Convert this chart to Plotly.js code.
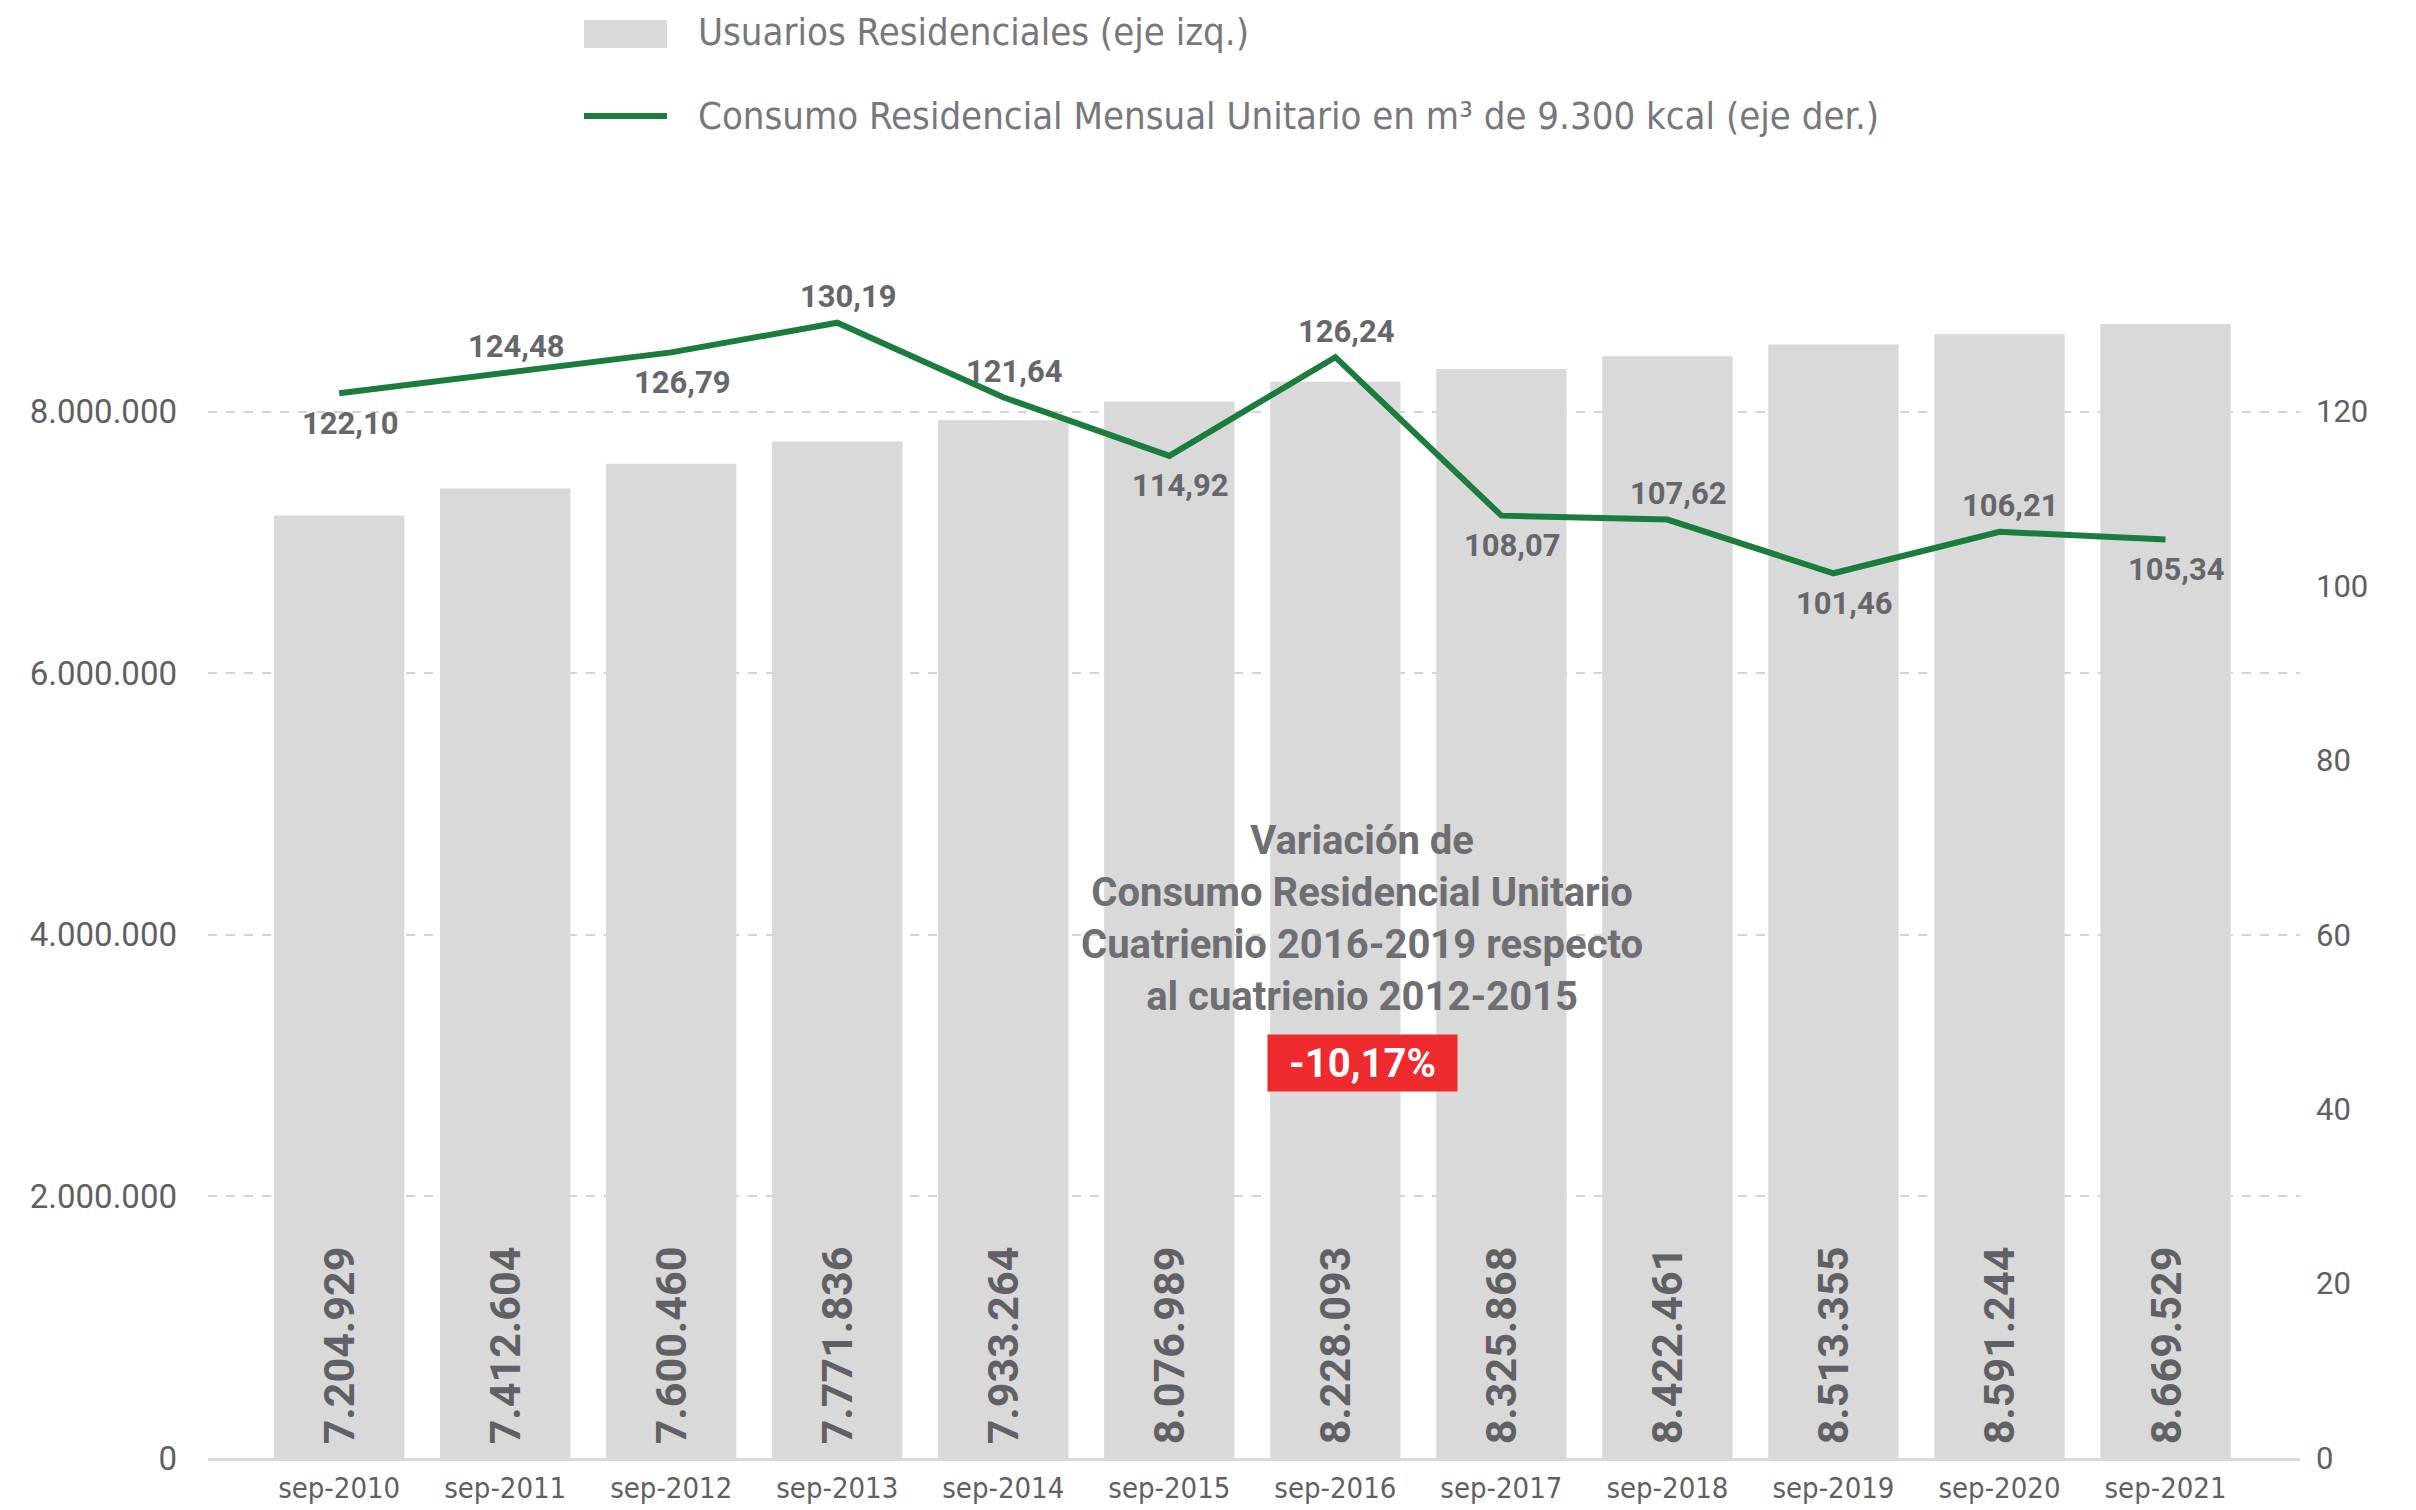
<!DOCTYPE html>
<html>
<head>
<meta charset="utf-8">
<script src="https://cdn.plot.ly/plotly-3.0.1.min.js"></script>
<style>html,body{margin:0;padding:0;background:#fff;}#chart{width:2416px;height:1510px;}</style>
</head>
<body>
<div id="chart"></div>
<script>
// ---- data ----
const categories = ["sep-2010","sep-2011","sep-2012","sep-2013","sep-2014","sep-2015","sep-2016","sep-2017","sep-2018","sep-2019","sep-2020","sep-2021"];
const usuarios = [7204929, 7412604, 7600460, 7771836, 7933264, 8076989, 8228093, 8325868, 8422461, 8513355, 8591244, 8669529];
const consumo = [122.10, 124.48, 126.79, 130.19, 121.64, 114.92, 126.24, 108.07, 107.62, 101.46, 106.21, 105.34];
const consumoLabelPos = ["below","above","below","above","above","below","above","below","above","below","above","below"];
const leftTicks = [0, 2000000, 4000000, 6000000, 8000000];
const rightTicks = [0, 20, 40, 60, 80, 100, 120];
const legendNames = ["Usuarios Residenciales (eje izq.)", "Consumo Residencial Mensual Unitario en m³ de 9.300 kcal (eje der.)"];
const noteText = "Variación de<br>Consumo Residencial Unitario<br>Cuatrienio 2016-2019 respecto<br>al cuatrienio 2012-2015";
const noteValue = "-10,17%";

// ---- styling ----
const W = 2416, H = 1510, L = 208, R = 2300, T = 150, B = 1458;
const px = p => (p - L) / (R - L);
const py = p => (B - p) / (B - T);
const COND = "DejaVu Sans Condensed, Roboto, sans-serif";
const ROBOTO = "Roboto, sans-serif";
const GREY_TXT = "#66666b";
const BAR_COL = "#d9d9d9";
const GREEN = "#1b7d3d";

const traces = [
  {
    type: "bar",
    name: legendNames[0],
    x: categories,
    y: usuarios,
    yaxis: "y",
    marker: {color: BAR_COL},
    texttemplate: "\u00a0%{y:,.0f}",
    textposition: "inside",
    insidetextanchor: "start",
    textangle: -90,
    constraintext: "none",
    textfont: {family: ROBOTO, size: 43, color: "#606065", weight: 700},
    hoverinfo: "skip",
    showlegend: false
  },
  {
    type: "scatter",
    mode: "lines",
    name: legendNames[1],
    x: categories,
    y: consumo,
    yaxis: "y2",
    line: {color: GREEN, width: 6},
    hoverinfo: "skip",
    showlegend: false
  }
];

// value labels for the line, placed from the data
const lineLabels = categories.map((c, i) => ({
  xref: "x", yref: "y2", x: c, y: consumo[i],
  text: consumo[i].toFixed(2).replace(".", ","),
  showarrow: false, xanchor: "center", yanchor: "middle",
  xshift: 11, yshift: consumoLabelPos[i] === "above" ? 26 : -30,
  font: {family: ROBOTO, size: 31, color: GREY_TXT, weight: 700}
}));

const layout = {
  width: W, height: H,
  margin: {l: L, r: W - R, t: T, b: H - B},
  paper_bgcolor: "#ffffff",
  plot_bgcolor: "#ffffff",
  separators: ",.",
  bargap: 0.215,
  showlegend: false,
  font: {family: COND, color: GREY_TXT},
  xaxis: {
    type: "category",
    range: [-0.79, 11.81],
    showgrid: false,
    showline: true, linecolor: "#d9d9d9", linewidth: 3,
    ticks: "",
    ticklabelstandoff: 2,
    tickfont: {family: COND, size: 29, color: "#5f5f64"},
    zeroline: false
  },
  yaxis: {
    range: [0, 10000000],
    tickvals: leftTicks,
    tickformat: ",.0f",
    showgrid: true, gridcolor: "#d4d4d4", gridwidth: 2, griddash: "dash",
    zeroline: false, showline: false, ticks: "",
    ticklabelstandoff: 30,
    tickfont: {family: ROBOTO, size: 33, color: "#5f5f64"}
  },
  yaxis2: {
    overlaying: "y", side: "right",
    range: [0, 150],
    tickvals: rightTicks,
    showgrid: false, zeroline: false, showline: false, ticks: "",
    ticklabelstandoff: 15,
    tickfont: {family: ROBOTO, size: 31, color: "#5f5f64"}
  },
  shapes: [
    {type: "rect", xref: "paper", yref: "paper", x0: px(584), x1: px(667), y0: py(48), y1: py(20), fillcolor: BAR_COL, line: {width: 0}},
    {type: "line", xref: "paper", yref: "paper", x0: px(584), x1: px(667), y0: py(116), y1: py(116), line: {color: GREEN, width: 6}}
  ],
  annotations: [
    {xref: "paper", yref: "paper", x: px(696), y: py(32), xanchor: "left", yanchor: "middle", showarrow: false,
     text: legendNames[0], font: {family: COND, size: 38, color: "#77777c"}},
    {xref: "paper", yref: "paper", x: px(696), y: py(116), xanchor: "left", yanchor: "middle", showarrow: false,
     text: legendNames[1], font: {family: COND, size: 38, color: "#77777c"}},
    {xref: "paper", yref: "paper", x: px(1362), y: py(918), xanchor: "center", yanchor: "middle", showarrow: false,
     align: "center", text: noteText, font: {family: ROBOTO, size: 40, color: "#6e6e73", weight: 700}},
    {xref: "paper", yref: "paper", x: px(1362), y: py(1063), xanchor: "center", yanchor: "middle", showarrow: false,
     text: noteValue, width: 185, height: 52, bgcolor: "#ee2a2f", borderpad: 2,
     font: {family: ROBOTO, size: 40, color: "#ffffff", weight: 700}}
  ].concat(lineLabels)
};

Plotly.newPlot("chart", traces, layout, {staticPlot: true, displayModeBar: false});
</script>
</body>
</html>
